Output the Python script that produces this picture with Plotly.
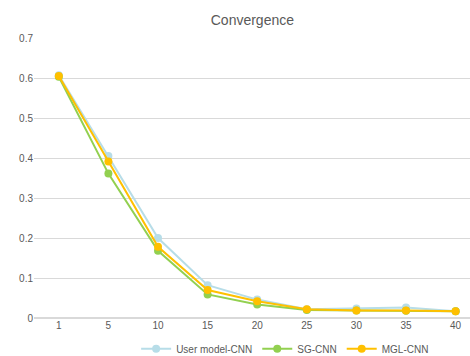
import plotly.graph_objects as go

categories = ["1", "5", "10", "15", "20", "25", "30", "35", "40"]
user_model_cnn = [0.607, 0.405, 0.200, 0.082, 0.046, 0.022, 0.024, 0.026, 0.017]
sg_cnn = [0.603, 0.361, 0.168, 0.059, 0.034, 0.020, 0.019, 0.018, 0.017]
mgl_cnn = [0.605, 0.391, 0.178, 0.070, 0.042, 0.022, 0.019, 0.019, 0.017]
y_ticks = [0, 0.1, 0.2, 0.3, 0.4, 0.5, 0.6, 0.7]
y_labels = ["0", "0.1", "0.2", "0.3", "0.4", "0.5", "0.6", "0.7"]

series = [
    ("User model-CNN", user_model_cnn, "#b7dde8"),
    ("SG-CNN", sg_cnn, "#92d050"),
    ("MGL-CNN", mgl_cnn, "#ffc000"),
]

fig = go.Figure()
for name, vals, color in series:
    fig.add_trace(go.Scatter(
        x=categories, y=vals, name=name, mode="lines+markers",
        line=dict(color=color, width=2),
        marker=dict(color=color, size=8),
    ))

fig.update_layout(
    width=470, height=356,
    margin=dict(l=34, r=0, t=38, b=38, autoexpand=False),
    paper_bgcolor="white", plot_bgcolor="white",
    font=dict(family="Liberation Sans, Arial, sans-serif", color="#595959", size=10),
    title=dict(text="Convergence", x=0.537, xanchor="center", xref="container",
               y=0.944, yanchor="middle", yref="container",
               font=dict(size=14, color="#595959")),
    showlegend=True,
    legend=dict(orientation="h", x=0.576, xanchor="center", y=-0.11, yanchor="middle",
                font=dict(size=10, color="#595959"), itemwidth=30, tracegroupgap=0),
    xaxis=dict(type="category", range=[-0.5, 8.29], showgrid=False, showline=False,
               zeroline=False, ticks="", automargin=False,
               tickfont=dict(size=10, color="#595959")),
    yaxis=dict(range=[0, 0.7], tickvals=y_ticks, ticktext=y_labels, showgrid=True,
               gridcolor="#d9d9d9", gridwidth=1, zeroline=True, zerolinecolor="#d9d9d9",
               showline=False, ticks="", automargin=False,
               tickfont=dict(size=10, color="#595959")),
)

fig.write_html("out.html", config={"displayModeBar": False},
               post_script="document.body.style.margin='0';")
